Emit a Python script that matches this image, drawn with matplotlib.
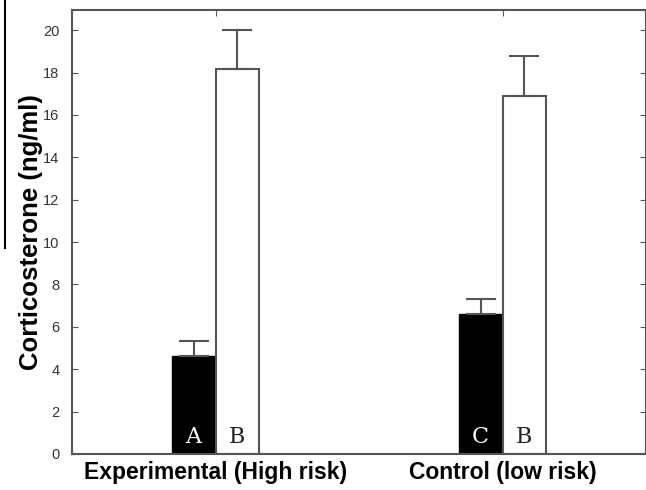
import numpy as np
import matplotlib.pyplot as plt
from matplotlib.lines import Line2D

groups = ['Experimental (High risk)', 'Control (low risk)']
black_vals = [4.62, 6.59]
black_err = [0.71, 0.74]
white_vals = [18.19, 16.9]
white_err = [1.82, 1.89]
black_letters = ['A', 'C']
white_letters = ['B', 'B']
yticks = [0, 2, 4, 6, 8, 10, 12, 14, 16, 18, 20]

edge = '#555555'
fig = plt.figure(figsize=(6.46, 4.90), dpi=100)
ax = fig.add_axes([0.1115, 0.0735, 0.8885, 0.906])

x = np.arange(len(groups))
w = 0.153

ax.bar(x - w / 2, black_vals, w, color='black', edgecolor='black', linewidth=1)
ax.bar(x + w / 2, white_vals, w, color='white', edgecolor=edge, linewidth=1.5)

ax.errorbar(x - w / 2, black_vals, yerr=[np.zeros(2), black_err], fmt='none',
            ecolor=edge, elinewidth=1.5, capsize=10.8, capthick=1.5)
ax.errorbar(x + w / 2, white_vals, yerr=[np.zeros(2), white_err], fmt='none',
            ecolor=edge, elinewidth=1.5, capsize=10.8, capthick=1.5)

for i in range(len(groups)):
    ax.text(x[i] - w / 2, 0.3, black_letters[i], color='white', ha='center', va='bottom',
            fontsize=16, family='DejaVu Serif')
    ax.text(x[i] + w / 2, 0.3, white_letters[i], color='#222222', ha='center', va='bottom',
            fontsize=16, family='DejaVu Serif')

ax.set_xlim(-0.5, 1.5)
ax.set_ylim(0, 20.95)
ax.set_yticks(yticks)
ax.set_xticks(x)
ax.set_xticklabels(groups, fontsize=16.5, fontweight='bold', family='Liberation Sans')
ax.set_ylabel('Corticosterone (ng/ml)', fontsize=18.5, fontweight='bold', family='Liberation Sans',
              labelpad=0)
for lab in ax.get_yticklabels():
    lab.set_family('Liberation Sans')
    lab.set_fontsize(10.5)
    lab.set_color('#333333')

ax.tick_params(axis='y', direction='in', length=4, color=edge, right=True, left=True, pad=9)
ax.tick_params(axis='x', direction='in', length=4, color=edge, top=True, bottom=False, pad=5)

for s in ax.spines.values():
    s.set_color(edge)
    s.set_linewidth(1.5)

fig.add_artist(Line2D([5 / 646, 5 / 646], [1.0, 1 - 248 / 490], transform=fig.transFigure,
                      color='black', linewidth=1.5))

fig.savefig('out.png', dpi=100)
